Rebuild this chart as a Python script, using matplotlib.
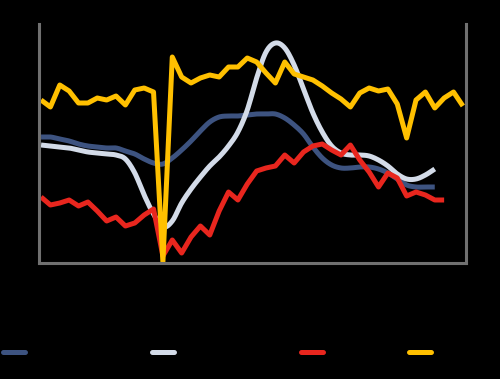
import numpy as np
import pandas as pd
import matplotlib
matplotlib.use("Agg")
import matplotlib.pyplot as plt
from matplotlib.lines import Line2D

# monthly index values (Mar 2019 onwards)
months = pd.date_range("2019-03-01", periods=46, freq="MS")

series_a = [126, 126, 124, 122, 119, 117, 116, 115, 115, 112, 109, 104, 100, 99, 105,
            113, 122, 132, 141, 146, 147, 147, 148, 149, 149, 149, 145, 138, 129, 116,
            105, 98, 95, 95, 96, 96, 94, 90, 84, 78, 76, 76, 76]
series_b = [118, 117, 116, 115, 113, 111, 110, 109, 108, 104, 90, 68, 49, 36, 42,
            60, 74, 86, 97, 106, 117, 131, 153, 185, 211, 220, 215, 198, 174, 150,
            131, 117, 110, 108, 108, 107, 103, 97, 89, 84, 84, 88, 94]
series_c = [66, 58, 60, 63, 57, 61, 52, 42, 46, 37, 40, 48, 54, 7, 23,
            10, 26, 37, 28, 52, 71, 63, 79, 92, 95, 97, 108, 100, 111, 117,
            119, 113, 108, 118, 103, 91, 76, 90, 85, 67, 71, 68, 63, 63]
series_d = [163, 156, 178, 172, 160, 160, 165, 163, 167, 158, 173, 175, 171, 1, 206,
            186, 180, 185, 188, 186, 196, 196, 205, 201, 190, 180, 201, 189, 186, 183,
            177, 170, 164, 156, 170, 175, 172, 174, 159, 125, 163, 171, 155, 165, 171, 157]

labels = ["A", "B", "C", "D"]
colors = ["#3d5380", "#d3dbe8", "#e8261e", "#ffc000"]
smooth = [True, True, False, False]
legend_x = [3, 152, 301, 409]


def smoothed(x, y, steps=12):
    # Catmull-Rom curve through the points, like a spreadsheet "smoothed line"
    x = np.asarray(x, float)
    y = np.asarray(y, float)
    px = np.concatenate([[2 * x[0] - x[1]], x, [2 * x[-1] - x[-2]]])
    py = np.concatenate([[2 * y[0] - y[1]], y, [2 * y[-1] - y[-2]]])
    t = np.linspace(0, 1, steps, endpoint=False)
    xs, ys = [], []
    for i in range(1, len(px) - 2):
        for arr, out in ((px, xs), (py, ys)):
            p0, p1, p2, p3 = arr[i - 1], arr[i], arr[i + 1], arr[i + 2]
            out.extend(0.5 * (2 * p1 + (-p0 + p2) * t + (2 * p0 - 5 * p1 + 4 * p2 - p3) * t ** 2
                              + (-p0 + 3 * p1 - 3 * p2 + p3) * t ** 3))
    xs.append(x[-1])
    ys.append(y[-1])
    return xs, ys


def main():
    fig = plt.figure(figsize=(5, 3.79), dpi=100, facecolor="black")
    ax = fig.add_axes([38.5 / 500, 1 - 263 / 379, (465.7 - 38.5) / 500, (263 - 24) / 379])
    ax.set_facecolor("black")

    x = np.arange(len(months))
    data = [series_a, series_b, series_c, series_d]
    for vals, col, lab, sm in zip(data, colors, labels, smooth):
        xx = x[:len(vals)]
        if sm:
            xx, vals = smoothed(xx, vals)
        ax.plot(xx, vals, color=col, linewidth=3.6,
                solid_joinstyle="round", solid_capstyle="butt", label=lab)

    ax.set_xlim(-0.27, 45.3)
    ax.set_ylim(0, 239)

    for side in ["left", "right", "bottom"]:
        ax.spines[side].set_color("#707070")
        ax.spines[side].set_linewidth(2.2)
    ax.spines["top"].set_visible(False)

    ticks = x[::3]
    ax.set_xticks(ticks)
    ax.set_xticklabels([m.strftime("%b %y") for m in months[::3]],
                       rotation=90, fontsize=7, color="black")
    ax.tick_params(axis="both", length=0, colors="black")
    ax.set_yticks([])

    for col, lab, xp in zip(colors, labels, legend_x):
        fig.legend([Line2D([], [], color=col, linewidth=3.6, solid_capstyle="round")], [lab],
                   loc="center left", bbox_to_anchor=(xp / 500, 1 - 353 / 379),
                   frameon=False, borderpad=0, borderaxespad=0,
                   handlelength=2.0, fontsize=8, labelcolor="black")

    fig.savefig("out.png", dpi=100, facecolor="black")


if __name__ == '__main__':
    main()
